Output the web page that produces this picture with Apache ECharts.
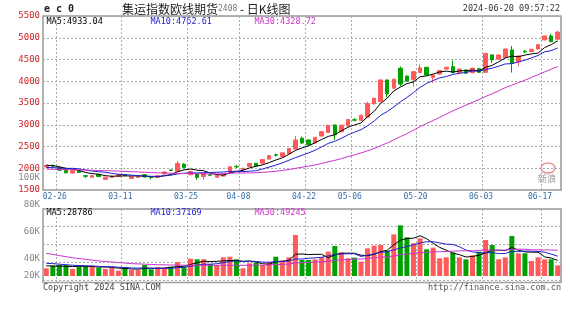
<!DOCTYPE html>
<html><head><meta charset="utf-8">
<script src="https://cdn.jsdelivr.net/npm/echarts@6/dist/echarts.min.js"></script>
<style>html,body{margin:0;padding:0;background:#fff}#c{width:570px;height:320px}</style>
</head><body><div id="c"></div>
<script>
const dates = ['02-23','02-26','02-27','02-28','02-29','03-01','03-04','03-05','03-06','03-07','03-08','03-11','03-12','03-13','03-14','03-15','03-18','03-19','03-20','03-21','03-22','03-25','03-26','03-27','03-28','03-29','04-01','04-02','04-03','04-08','04-09','04-10','04-11','04-12','04-15','04-16','04-17','04-18','04-19','04-22','04-23','04-24','04-25','04-26','04-29','04-30','05-06','05-07','05-08','05-09','05-10','05-13','05-14','05-15','05-16','05-17','05-20','05-21','05-22','05-23','05-24','05-27','05-28','05-29','05-30','05-31','06-03','06-04','06-05','06-06','06-07','06-11','06-12','06-13','06-14','06-17','06-18','06-19','06-20'];
const tickDates = ['02-26','03-11','03-25','04-08','04-22','05-06','05-20','06-03','06-17'];
const opens = [2030,2060,2020,1960,1890,1940,1830,1795,1860,1745,1790,1810,1850,1765,1790,1850,1795,1790,1870,1960,1930,2095,1850,1870,1810,1850,1795,1820,1905,2040,1960,2040,2115,2115,2210,2310,2265,2335,2440,2690,2650,2580,2740,2820,2995,2840,2975,3115,3100,3175,3480,3530,4030,3840,4300,4120,4045,4200,4320,4090,4165,4280,4335,4200,4260,4200,4290,4205,4605,4510,4550,4720,4450,4690,4680,4740,4950,5040,4965];
const closes = [2065,2050,1955,1895,1945,1905,1815,1830,1810,1795,1820,1855,1840,1800,1810,1800,1785,1825,1915,1950,2110,2010,1925,1790,1880,1840,1840,1865,2035,2030,2000,2110,2050,2200,2290,2300,2355,2455,2650,2580,2540,2710,2840,2990,2770,2990,3120,3105,3220,3490,3610,4030,3710,4045,3935,4005,4220,4310,4145,4145,4245,4320,4200,4280,4185,4300,4205,4640,4490,4605,4740,4410,4580,4675,4735,4840,5040,4910,5130];
const lows = [2010,2020,1940,1880,1880,1895,1775,1780,1795,1735,1780,1800,1815,1750,1780,1790,1740,1780,1860,1935,1920,2000,1840,1735,1740,1820,1785,1810,1895,2010,1950,2030,2040,2105,2200,2270,2255,2325,2430,2560,2530,2570,2730,2810,2650,2830,2960,3080,3090,3165,3470,3520,3630,3830,3890,3990,3875,4190,4130,3955,4155,4270,4185,4190,4170,4180,4190,4195,4420,4500,4540,4200,4340,4650,4670,4730,4940,4895,4955];
const highs = [2080,2090,2030,1975,1955,1950,1845,1840,1870,1805,1830,1865,1870,1810,1830,1860,1810,1835,1925,1975,2165,2120,1945,1880,1890,1870,1850,1875,2050,2075,2010,2120,2125,2210,2300,2340,2365,2465,2740,2730,2660,2720,2850,3000,3000,3000,3130,3150,3230,3530,3620,4040,4040,4060,4340,4130,4230,4390,4330,4150,4255,4330,4475,4290,4270,4310,4300,4650,4615,4615,4750,4810,4590,4720,4745,4860,5050,5087,5160];
const ma5 = [2070,2060,2035,2000,1982,1950,1903,1878,1861,1831,1814,1822,1824,1822,1825,1821,1807,1804,1827,1855,1917,1962,1982,1957,1943,1889,1855,1843,1892,1922,1954,2008,2045,2078,2130,2190,2239,2320,2410,2468,2516,2587,2664,2732,2770,2860,2942,2995,3041,3185,3309,3491,3612,3777,3866,3945,3983,4103,4123,4165,4213,4233,4211,4238,4246,4257,4234,4322,4364,4448,4536,4577,4565,4602,4628,4648,4774,4840,4931];
const ma10 = [2020,2015,2005,1995,1998,1985,1960,1935,1920,1907,1882,1863,1851,1842,1828,1818,1815,1814,1825,1840,1869,1885,1893,1892,1899,1903,1909,1913,1925,1933,1922,1932,1944,1985,2026,2072,2124,2183,2244,2299,2353,2413,2492,2571,2619,2688,2765,2830,2887,2978,3085,3217,3304,3409,3526,3627,3737,3858,3950,4016,4079,4108,4157,4181,4206,4235,4234,4267,4301,4347,4397,4406,4444,4483,4538,4592,4676,4703,4767];
const ma30 = [1980,1978,1975,1970,1966,1962,1958,1953,1948,1944,1940,1934,1928,1922,1915,1908,1900,1895,1890,1886,1882,1879,1876,1873,1871,1870,1871,1874,1884,1893,1891,1893,1896,1906,1918,1931,1949,1970,1998,2024,2048,2076,2110,2149,2181,2221,2266,2308,2352,2403,2453,2520,2580,2655,2724,2796,2875,2957,3027,3097,3172,3246,3318,3387,3450,3517,3578,3651,3713,3780,3853,3910,3968,4024,4090,4151,4215,4276,4339];
const volumes = [14300,19200,20500,20500,13000,17300,18600,19200,15400,13000,15400,9900,16200,11200,11200,20500,12500,16200,14300,17300,26000,17300,32200,31100,31100,22300,20500,34800,35900,31100,14300,23600,24700,20500,26600,35900,28500,34700,76300,29800,29800,31000,34700,45300,55800,44000,32900,34100,26700,51500,56400,57700,47100,77500,94200,71900,60800,70100,49600,52700,32900,34700,43400,34700,31000,38400,45300,67000,57700,31000,34700,74400,42200,42200,27900,34700,31000,31000,19800];
const volMa5 = [19000,18500,18500,18000,17500,18100,18000,17700,16700,16700,16300,14600,14000,13100,12800,13800,14300,14300,14900,16200,17300,18200,21400,24800,27500,26800,27400,28000,28900,28900,27300,27900,25900,22800,21900,26300,27200,29200,40400,41000,39800,40300,40300,34100,39300,42200,42500,42400,38700,37800,40300,45300,47900,58000,66600,69700,70300,74900,69300,61000,53200,48000,42700,39700,35300,36400,38600,43300,47900,47900,47100,53000,48000,44900,44300,44300,35600,33400,28900];
const volMa10 = [23600,23000,22000,21000,20000,19500,19000,18500,18000,17100,17200,16300,15900,14900,14700,15100,14500,14200,14000,14500,15500,16300,17900,19900,21900,22000,22800,24700,26900,28200,27100,27700,26900,25900,25400,26800,27600,27600,31600,31500,33000,33800,34800,37300,40200,41000,41400,41400,36400,38600,41200,43900,45200,48400,52200,55000,57800,61400,63700,63800,61500,59200,58800,54500,48200,44800,43300,43000,43800,41600,41800,45800,45600,46400,46100,45700,44300,40700,36900];
const volMa30 = [42000,40000,38000,36000,34000,32500,31000,29500,28000,27000,26000,25000,24000,23000,22500,22000,21500,21000,20800,20500,20300,20100,20000,19900,19800,19800,19800,19900,19900,19900,19900,20100,20200,20200,20700,21300,21600,22100,24200,24700,25200,25900,26500,27700,29200,29900,30600,31200,31600,32800,33800,35100,35600,37200,39300,40900,42300,43400,43900,44600,45200,45600,46200,46700,46900,46900,47500,48600,48000,48000,48200,49600,49900,49800,48800,48500,48500,48300,48100];
const priceMaLabels = ['MA5:4933.04','MA10:4762.61','MA30:4328.72'];
const volMaLabels = ['MA5:28786','MA10:37169','MA30:49245'];
const volTickLabels = ['100K','80K','60K','40K','20K'];
const titleMain = '集运指数欧线期货';
const titleCode = '2408';
const titleTail = ' - 日K线图';
const stamp = '2024-06-20 09:57:22';
const copyright = 'Copyright 2024 SINA.COM';
const siteUrl = 'http://finance.sina.com.cn';

const UP = '#ff5a5a', DOWN = '#00a000';
const C5 = '#000000', C10 = '#2020d0', C30 = '#cc33cc';
const mono = '"DejaVu Sans Mono", monospace';
const cjk = '"Noto Sans CJK SC", sans-serif';
const labelSet = new Set(tickDates);
const ohlc = dates.map((d, i) => [opens[i], closes[i], lows[i], highs[i]]);
const gridDot = {color: '#aaaaaa', width: 1, type: [2, 2]};
const splitInt = (i) => i > 0 && labelSet.has(dates[i - 1]);

const chart = echarts.init(document.getElementById('c'), null, {renderer: 'canvas', width: 570, height: 320});

function lineSeries(name, data, color, xi, yi) {
  return {name, type: 'line', data, xAxisIndex: xi, yAxisIndex: yi, symbol: 'none', showSymbol: false,
    lineStyle: {color, width: 1}, itemStyle: {color}, z: 5, silent: true};
}

const volTickY = [178, 205, 232, 259, 276];
const graphics = [
  {type: 'text', style: {text: 'e c 0', x: 44, y: 9, font: 'bold 10px ' + mono, fill: '#222', verticalAlign: 'middle'}},
  {type: 'text', style: {text: '{a|' + titleMain + '}{b|' + titleCode + '}{a|' + titleTail + '}', x: 122, y: 9, verticalAlign: 'middle',
    rich: {a: {font: '12px ' + cjk, fill: '#222'}, b: {font: '8px ' + mono, fill: '#777'}}}},
  {type: 'text', style: {text: stamp, x: 560, y: 9, align: 'right', verticalAlign: 'middle', font: '8.5px ' + mono, fill: '#333'}},
  {type: 'text', style: {text: priceMaLabels[0], x: 46.5, y: 21.5, verticalAlign: 'middle', font: '8.5px ' + mono, fill: C5}},
  {type: 'text', style: {text: priceMaLabels[1], x: 150.5, y: 21.5, verticalAlign: 'middle', font: '8.5px ' + mono, fill: C10}},
  {type: 'text', style: {text: priceMaLabels[2], x: 254.5, y: 21.5, verticalAlign: 'middle', font: '8.5px ' + mono, fill: C30}},
  {type: 'text', style: {text: volMaLabels[0], x: 46.5, y: 212.5, verticalAlign: 'middle', font: '8.5px ' + mono, fill: C5}},
  {type: 'text', style: {text: volMaLabels[1], x: 150.5, y: 212.5, verticalAlign: 'middle', font: '8.5px ' + mono, fill: C10}},
  {type: 'text', style: {text: volMaLabels[2], x: 254.5, y: 212.5, verticalAlign: 'middle', font: '8.5px ' + mono, fill: C30}},
  {type: 'text', style: {text: copyright, x: 43, y: 288, verticalAlign: 'middle', font: '8.5px ' + mono, fill: '#444'}},
  {type: 'text', style: {text: siteUrl, x: 561, y: 288, align: 'right', verticalAlign: 'middle', font: '8.5px ' + mono, fill: '#555'}},
  {type: 'ellipse', shape: {cx: 548, cy: 168, rx: 7, ry: 5}, style: {fill: 'none', stroke: '#e89090', lineWidth: 1.5}},
  {type: 'text', style: {text: '新浪', x: 547, y: 179, align: 'center', verticalAlign: 'middle', font: 'bold 9px ' + cjk, fill: '#b8b8b8'}}
];
volTickLabels.forEach((t, k) => {
  graphics.push({type: 'text', style: {text: t, x: 40, y: volTickY[k], align: 'right', verticalAlign: 'middle', font: '9px ' + mono, fill: '#888'}});
});

const option = {
  animation: false,
  backgroundColor: '#ffffff',
  grid: [
    {left: 43, top: 16, width: 518, height: 174, show: true, borderColor: '#999', borderWidth: 1.5, backgroundColor: 'transparent'},
    {left: 43, top: 209, width: 518, height: 73.5, show: true, borderColor: '#999', borderWidth: 1.5, backgroundColor: 'transparent'}
  ],
  xAxis: [
    {type: 'category', gridIndex: 0, data: dates, boundaryGap: true,
      axisLine: {show: false}, axisTick: {show: false},
      axisLabel: {interval: (i) => labelSet.has(dates[i]), fontFamily: mono, fontSize: 8, color: '#3a6ea5', margin: 3, padding: [0, 0, 0, 4]},
      splitLine: {show: true, interval: splitInt, lineStyle: gridDot}},
    {type: 'category', gridIndex: 1, data: dates, boundaryGap: true,
      axisLine: {show: false}, axisTick: {show: false}, axisLabel: {show: false},
      splitLine: {show: true, interval: splitInt, lineStyle: gridDot}}
  ],
  yAxis: [
    {type: 'value', gridIndex: 0, min: 1500, max: 5500, interval: 500,
      axisLine: {show: false}, axisTick: {show: false},
      axisLabel: {fontFamily: mono, fontSize: 9, color: '#cc2222', margin: 3, formatter: (v) => String(v)},
      splitLine: {show: true, lineStyle: gridDot}},
    {type: 'value', gridIndex: 1, min: -12090, max: 124620,
      axisLine: {show: false}, axisTick: {show: false}, axisLabel: {show: false}, splitLine: {show: false}},
    {type: 'value', gridIndex: 1, inverse: true, min: 0, max: 4.15, interval: 1,
      axisLine: {show: false}, axisTick: {show: false}, axisLabel: {show: false},
      splitLine: {show: true, lineStyle: gridDot}}
  ],
  graphic: graphics,
  series: [
    {type: 'candlestick', xAxisIndex: 0, yAxisIndex: 0, data: ohlc, barWidth: 4, silent: true,
      itemStyle: {color: UP, color0: DOWN, borderColor: UP, borderColor0: DOWN, borderWidth: 1}},
    lineSeries('MA5', ma5, C5, 0, 0),
    lineSeries('MA10', ma10, C10, 0, 0),
    lineSeries('MA30', ma30, C30, 0, 0),
    {type: 'bar', xAxisIndex: 1, yAxisIndex: 1, data: volumes, barWidth: 5, silent: true,
      itemStyle: {color: (p) => closes[p.dataIndex] >= opens[p.dataIndex] ? UP : DOWN}},
    lineSeries('VMA5', volMa5, C5, 1, 1),
    lineSeries('VMA10', volMa10, C10, 1, 1),
    lineSeries('VMA30', volMa30, C30, 1, 1)
  ]
};
chart.setOption(option);
</script>
</body></html>
